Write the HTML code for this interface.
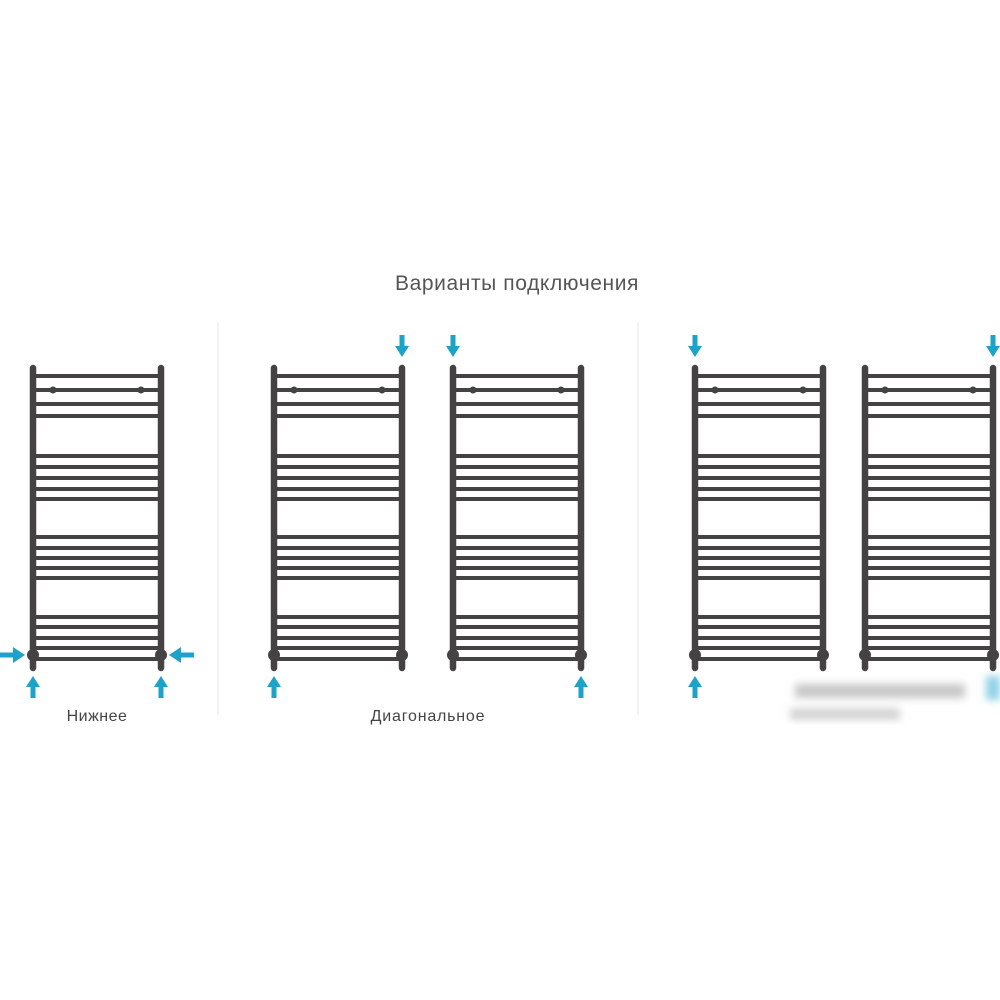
<!DOCTYPE html>
<html><head><meta charset="utf-8"><style>
html,body{margin:0;padding:0;background:#fff;width:1000px;height:1000px;overflow:hidden}
svg{display:block}
</style></head><body>
<svg width="1000" height="1000" viewBox="0 0 1000 1000" xmlns="http://www.w3.org/2000/svg">
<defs>
<g id="rad" stroke="#454244" fill="none">
  <g stroke-width="4">
    <line x1="0" y1="376" x2="128" y2="376"/>
    <line x1="0" y1="390" x2="128" y2="390"/>
    <line x1="0" y1="404" x2="128" y2="404"/>
    <line x1="0" y1="416" x2="128" y2="416"/>
    <line x1="0" y1="456" x2="128" y2="456"/>
    <line x1="0" y1="467" x2="128" y2="467"/>
    <line x1="0" y1="478" x2="128" y2="478"/>
    <line x1="0" y1="489" x2="128" y2="489"/>
    <line x1="0" y1="499" x2="128" y2="499"/>
    <line x1="0" y1="537" x2="128" y2="537"/>
    <line x1="0" y1="548" x2="128" y2="548"/>
    <line x1="0" y1="558" x2="128" y2="558"/>
    <line x1="0" y1="568" x2="128" y2="568"/>
    <line x1="0" y1="578" x2="128" y2="578"/>
    <line x1="0" y1="617" x2="128" y2="617"/>
    <line x1="0" y1="627" x2="128" y2="627"/>
    <line x1="0" y1="638" x2="128" y2="638"/>
    <line x1="0" y1="648" x2="128" y2="648"/>
    <line x1="0" y1="659" x2="128" y2="659"/>
  </g>
  <g stroke-width="6.5" stroke-linecap="round">
    <line x1="0" y1="368" x2="0" y2="668"/>
    <line x1="128" y1="368" x2="128" y2="668"/>
  </g>
  <circle cx="20" cy="390" r="3.5" fill="#454244" stroke="none"/>
  <circle cx="108" cy="390" r="3.5" fill="#454244" stroke="none"/>
  <circle cx="0" cy="655" r="6" fill="#454244" stroke="none"/>
  <circle cx="128" cy="655" r="6" fill="#454244" stroke="none"/>
</g>
<g id="adown" fill="#1ea3c8"><rect x="-2.5" y="0" width="5" height="12"/><polygon points="-7,11 7,11 0,22"/></g>
<g id="aup" fill="#1ea3c8"><rect x="-2.5" y="10" width="5" height="12"/><polygon points="-7,11 7,11 0,0"/></g>
<filter id="bl"><feGaussianBlur stdDeviation="4"/></filter>
</defs>

<text x="517" y="290" text-anchor="middle" font-family="Liberation Sans, sans-serif" font-size="21" letter-spacing="0.6" fill="#555">Варианты подключения</text>

<line x1="218" y1="322" x2="218" y2="715" stroke="#e6e6e6" stroke-width="1"/>
<line x1="638" y1="322" x2="638" y2="715" stroke="#e6e6e6" stroke-width="1"/>

<use href="#rad" x="33"/>
<use href="#rad" x="274"/>
<use href="#rad" x="453"/>
<use href="#rad" x="695"/>
<use href="#rad" x="865"/>

<g fill="#1ea3c8">
  <rect x="0" y="652.5" width="14" height="5"/><polygon points="13,647 13,663 25,655"/>
  <rect x="180" y="652.5" width="14" height="5"/><polygon points="181,647 181,663 169,655"/>
</g>
<use href="#aup" x="33" y="676"/>
<use href="#aup" x="161" y="676"/>
<use href="#adown" x="402" y="335"/>
<use href="#aup" x="274" y="676"/>
<use href="#adown" x="453" y="335"/>
<use href="#aup" x="581" y="676"/>
<use href="#adown" x="695" y="335"/>
<use href="#aup" x="695" y="676"/>
<use href="#adown" x="993" y="335"/>

<g filter="url(#bl)">
  <rect x="795" y="684" width="170" height="14" fill="#c8c8c8"/>
  <rect x="790" y="708" width="110" height="12" fill="#d4d4d4"/>
  <rect x="986" y="676" width="14" height="24" fill="#8fd3e6"/>
</g>

<text x="97" y="721" text-anchor="middle" font-family="Liberation Sans, sans-serif" font-size="16" letter-spacing="0.5" fill="#444">Нижнее</text>
<text x="428" y="721" text-anchor="middle" font-family="Liberation Sans, sans-serif" font-size="16" letter-spacing="0.8" fill="#444">Диагональное</text>
</svg>
</body></html>
